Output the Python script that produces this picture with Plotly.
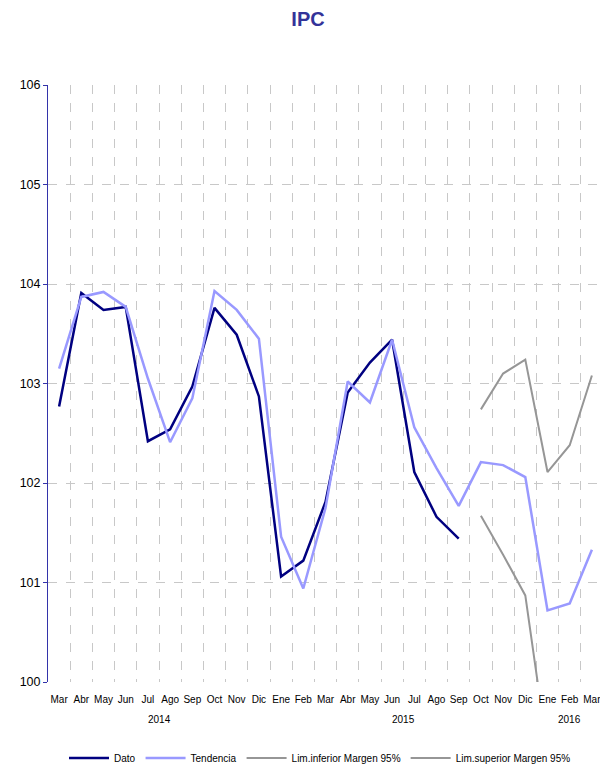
import plotly.graph_objects as go

months = ["Mar", "Abr", "May", "Jun", "Jul", "Ago", "Sep", "Oct", "Nov", "Dic",
          "Ene", "Feb", "Mar", "Abr", "May", "Jun", "Jul", "Ago", "Sep", "Oct", "Nov", "Dic",
          "Ene", "Feb", "Mar"]
years = ["2014", "2015", "2016"]
year_span = [(0, 9), (10, 21), (22, 24)]

dato = [102.77, 103.91, 103.74, 103.77, 102.42, 102.54, 102.97, 103.76, 103.49, 102.87,
        101.06, 101.22, 101.81, 102.91, 103.21, 103.44, 102.11, 101.66, 101.44,
        None, None, None, None, None, None]
tendencia = [103.15, 103.87, 103.92, 103.77, 103.05, 102.41, 102.85, 103.93, 103.74, 103.45,
             101.46, 100.94, 101.75, 103.02, 102.81, 103.44, 102.56, 102.15, 101.77,
             102.21, 102.18, 102.06, 100.72, 100.79, 101.33]
lim_inf = [None] * 19 + [101.67, 101.28, 100.87, 99.3, None, None]
lim_sup = [None] * 19 + [102.74, 103.10, 103.24, 102.11, 102.38, 103.08]

x = list(range(len(months)))
FONT = "Liberation Sans, Arial, sans-serif"

# page body has an 8px margin; figure sized to fit the 608x767 window
W, H = 600, 759

fig = go.Figure()
fig.add_trace(go.Scatter(x=x, y=dato, mode="lines", name="Dato",
                         line=dict(color="#000080", width=2.5)))
fig.add_trace(go.Scatter(x=x, y=tendencia, mode="lines", name="Tendencia",
                         line=dict(color="#9999ff", width=2.5)))
fig.add_trace(go.Scatter(x=x, y=lim_inf, mode="lines", name="Lim.inferior Margen 95%",
                         line=dict(color="#969696", width=2)))
fig.add_trace(go.Scatter(x=x, y=lim_sup, mode="lines", name="Lim.superior Margen 95%",
                         line=dict(color="#969696", width=2)))

for yr, (a, b) in zip(years, year_span):
    fig.add_annotation(x=(a + b) / 2, y=-0.062, xref="x", yref="paper", text=yr,
                       showarrow=False, yanchor="middle",
                       font=dict(family=FONT, size=10, color="#000000"))

fig.update_layout(
    width=W, height=H,
    margin=dict(l=40, r=5, t=77, b=85, autoexpand=False),
    paper_bgcolor="white", plot_bgcolor="white",
    title=dict(text="<b>IPC</b>", x=0.5, xanchor="center", y=1 - 11 / H, yanchor="middle",
               font=dict(family=FONT, size=20, color="#333399")),
    showlegend=True,
    legend=dict(orientation="h", x=0.52, xanchor="center", xref="container",
                y=1 - 750 / H, yanchor="middle", yref="container",
                font=dict(family=FONT, size=10, color="#000000"), itemwidth=40,
                tracegroupgap=0),
    font=dict(family=FONT, color="#000000"),
)
fig.update_xaxes(
    range=[-0.5, 24.5], tickmode="array", tickvals=x, ticktext=months,
    showgrid=False, zeroline=False, showline=False,
    ticks="outside", ticklen=8, tickcolor="rgba(0,0,0,0)", automargin=False,
    tickfont=dict(family=FONT, size=10, color="#000000"),
    minor=dict(tickmode="array", tickvals=[i + 0.5 for i in range(24)],
               showgrid=True, griddash="dash", gridcolor="#c8c8c8", gridwidth=1, ticks=""),
)
fig.update_yaxes(
    range=[100, 106], tickmode="array", tickvals=[100, 101, 102, 103, 104, 105, 106],
    showgrid=False, zeroline=False, showline=True, linecolor="#3333aa", linewidth=1,
    ticks="outside", ticklen=4, tickcolor="#3333aa", automargin=False,
    tickfont=dict(family=FONT, size=12.5, color="#000000"),
    minor=dict(tickmode="array", tickvals=[101, 102, 103, 104, 105],
               showgrid=True, griddash="dash", gridcolor="#c8c8c8", gridwidth=1, ticks=""),
)

fig.write_html("out.html")
